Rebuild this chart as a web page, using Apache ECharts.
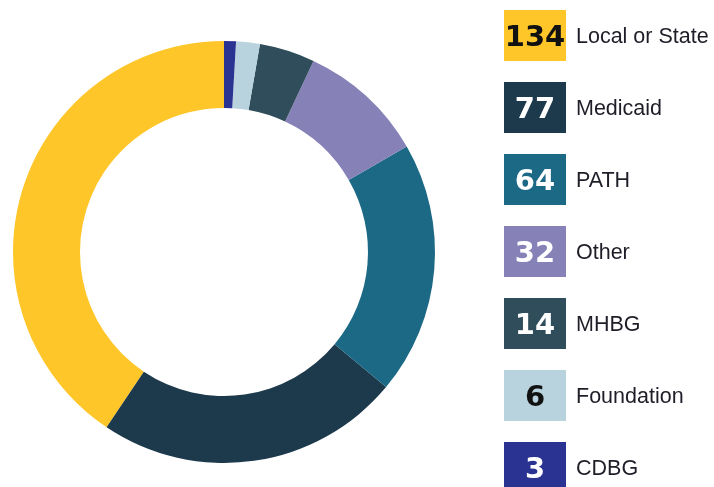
<!DOCTYPE html>
<html><head><meta charset="utf-8">
<script src="https://cdn.jsdelivr.net/npm/echarts@6/dist/echarts.min.js"></script>
<style>html,body{margin:0;padding:0;background:#fff}#c{width:714px;height:487px}</style>
</head><body><div id="c"></div>
<script>
const categories = ['Local or State','Medicaid','PATH','Other','MHBG','Foundation','CDBG'];
const values = [134,77,64,32,14,6,3];
const colors = ['#FFC62A','#1D394C','#1C6985','#8682B8','#2F4D5A','#B8D3DE','#2A3392'];
const numColors = ['#111111','#ffffff','#ffffff','#ffffff','#ffffff','#111111','#ffffff'];

const chart = echarts.init(document.getElementById('c'));
const graphic = [];
categories.forEach((name,i)=>{
  const top = 10 + i*72;
  graphic.push({type:'rect',left:504,top:top,shape:{width:62,height:51},style:{fill:colors[i]}});
  graphic.push({type:'text',x:535,y:top+28.5,style:{text:String(values[i]),fill:numColors[i],font:'bold 29px "DejaVu Sans"',textAlign:'center',textVerticalAlign:'middle'}});
  graphic.push({type:'text',x:576,y:top+27.5,style:{text:name,fill:'#1e1e28',font:'21.5px "Liberation Sans"',textAlign:'left',textVerticalAlign:'middle'}});
});
chart.setOption({
  animation:false,
  series:[{
    type:'pie',
    center:[224,252],
    radius:[144,211],
    startAngle:90,
    clockwise:false,
    label:{show:false},
    labelLine:{show:false},
    silent:true,
    data:categories.map((n,i)=>({name:n,value:values[i],itemStyle:{color:colors[i]}}))
  }],
  graphic:graphic
});
</script></body></html>
